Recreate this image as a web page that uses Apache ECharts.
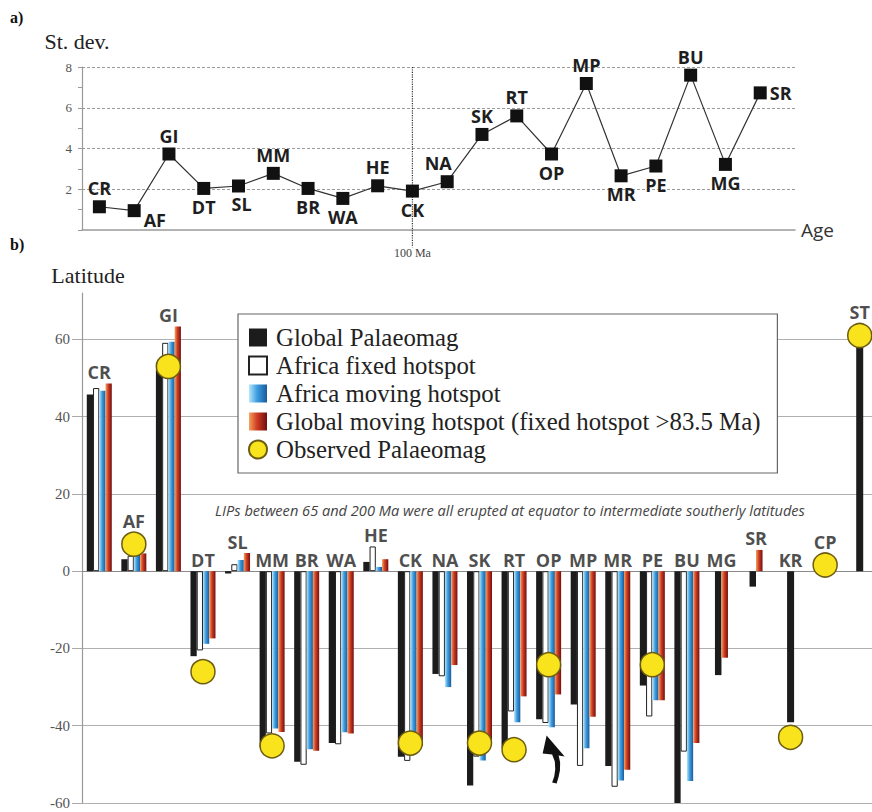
<!DOCTYPE html>
<html><head><meta charset="utf-8">
<script src="https://cdn.jsdelivr.net/npm/echarts@6/dist/echarts.min.js"></script>
<style>html,body{margin:0;padding:0;background:#fff}#c{width:872px;height:812px}</style>
</head><body><div id="c"></div>
<script>
// ---------- data ----------
const categories = ['CR','AF','GI','DT','SL','MM','BR','WA','HE','CK','NA','SK','RT','OP','MP','MR','PE','BU','MG','SR','KR','CP','ST'];
const stdevCategories = ['CR','AF','GI','DT','SL','MM','BR','WA','HE','CK','NA','SK','RT','OP','MP','MR','PE','BU','MG','SR'];
const stdev = [1.14, 0.95, 3.73, 2.04, 2.16, 2.78, 2.04, 1.55, 2.17, 1.91, 2.37, 4.69, 5.6, 3.73, 7.19, 2.66, 3.14, 7.6, 3.22, 6.73];
const globalPalaeomag = [45.7, 3.1, 54, -22.0, -0.6, -45.6, -49.3, -44.5, 2.4, -48.0, -26.6, -55.5, -45.8, -38.3, -34.5, -50.4, -29.6, -63, -26.9, -4.0, -39.1, null, 60];
const africaFixed     = [47.4, 4.0, 59.1, -20.5, 1.8, -42, -50.1, -44.8, 6.4, -49.1, -27.2, -48, -36.3, -39.3, -50.4, -55.8, -37.6, -46.7, null, null, null, null, null];
const africaMoving    = [46.7, 4.5, 59.4, -18.8, 2.9, -40.7, -46.1, -41.7, 1.1, -45, -30.0, -49.0, -39.1, -40.4, -45.8, -54.2, -33.4, -54.3, null, null, null, null, null];
const globalMoving    = [48.6, 4.6, 63.3, -17.4, 4.7, -41.6, -46.5, -42, 3.1, -45.2, -24.3, -45, -32.4, -31.9, -37.7, -51.4, -33.4, -44.5, -22.4, 5.5, null, null, null];
const observed        = [null, 7, 53, -26, null, -45.2, null, null, null, -44.5, null, -44.5, -46.2, -24.2, null, null, -24.2, null, null, null, -43, 1.6, 61];
const topTicks = [0, 2, 4, 6, 8];
const latTicks = [-60, -40, -20, 0, 20, 40, 60];
const ageMarker = 'CK';
const ageMarkerText = '100 Ma';
const noteText = 'LIPs between 65 and 200 Ma were all erupted at equator to intermediate southerly latitudes';

// ---------- styles ----------
const stdevLabelPos = {CR:'top',AF:'right',GI:'top',DT:'bottom',SL:'bottom',MM:'top',BR:'bottom',WA:'bottom',HE:'top',CK:'bottom',NA:'top',SK:'top',RT:'top',OP:'bottom',MP:'top',MR:'bottom',PE:'bottom',BU:'top',MG:'bottom',SR:'right'};
const stdevLabelOffset = {AF:[0,9], NA:[-9,0], SL:[3,0]};
const boldSans = {fontFamily:'Open Sans', fontWeight:'bold', fontSize:18, color:'#1e1e1e'};
const serif = 'Liberation Serif';

const chart = echarts.init(document.getElementById('c'), null, {renderer:'svg'});

const blueGrad = new echarts.graphic.LinearGradient(0,0,1,0,[{offset:0,color:'#b5e6fb'},{offset:0.45,color:'#3d9de0'},{offset:1,color:'#1a5a9c'}]);
const redGrad = new echarts.graphic.LinearGradient(0,0,1,0,[{offset:0,color:'#f5a15c'},{offset:0.45,color:'#cf3b22'},{offset:1,color:'#6e1010'}]);
const blackStyle = {color:'#1c1c1c'};
const whiteStyle = {color:'#ffffff', borderColor:'#222', borderWidth:1};
const blueStyle = {color:blueGrad};
const redStyle = {color:redGrad};

// group kind: how many model bars exist in each category
const groupKind = categories.map((c,i)=>{
  const n = [globalPalaeomag[i],africaFixed[i],africaMoving[i],globalMoving[i]].filter(v=>v!=null).length;
  return n >= 3 ? 4 : n;
});
const pick = (arr, kind) => arr.map((v,i)=> groupKind[i]===kind ? v : null);

function bar(name, data, style, axis, width){
  return {name, type:'bar', xAxisIndex:axis, yAxisIndex:1, data, itemStyle:style,
          barWidth:width, barGap:'0%', z:2, silent:true};
}

// label anchor per category
const labelData = categories.map((c,i)=>{
  let top = 0;
  [globalPalaeomag,africaFixed,africaMoving,globalMoving].forEach(a=>{ if(a[i]!=null && a[i]>top) top=a[i]; });
  let dist = 2;
  if (observed[i]!=null && observed[i] >= top - 1) { top = Math.max(top, observed[i]); dist = 14; }
  return {name:c, value:[i, top], label:{distance:dist}};
});

const option = {
  animation:false,
  backgroundColor:'#fff',
  textStyle:{fontFamily:serif},
  grid:[
    {left:82, top:67, width:713, height:163, outerBoundsMode:'none', containLabel:false},
    {left:82, top:293, width:795, height:510, outerBoundsMode:'none', containLabel:false}
  ],
  xAxis:[
    {gridIndex:0, type:'value', min:-0.5, max:20,
     axisLine:{show:true, onZero:false, lineStyle:{color:'#9a9a9a', width:1.5}},
     axisTick:{show:false}, axisLabel:{show:false}, splitLine:{show:false},
     name:'Age', nameLocation:'end', nameGap:6,
     nameTextStyle:{fontFamily:'Open Sans', fontSize:19, color:'#333'}},
    {gridIndex:1, type:'category', data:categories,
     axisLine:{show:true, onZero:true, lineStyle:{color:'#8a8a8a', width:1.2}},
     axisTick:{show:false}, axisLabel:{show:false}, splitLine:{show:false}},
    {gridIndex:1, type:'category', data:categories, show:false},
    {gridIndex:1, type:'category', data:categories, show:false}
  ],
  yAxis:[
    {gridIndex:0, type:'value', min:topTicks[0], max:topTicks[topTicks.length-1], interval:2,
     name:'St. dev.', nameLocation:'end', nameGap:15,
     nameTextStyle:{fontFamily:serif, fontSize:22, color:'#222', padding:[0,10,0,0]},
     axisLine:{show:true, onZero:false, lineStyle:{color:'#9a9a9a', width:1.2}},
     axisTick:{show:true, length:4, lineStyle:{color:'#9a9a9a'}},
     minorTick:{show:true, splitNumber:2, length:4, lineStyle:{color:'#9a9a9a'}},
     axisLabel:{fontFamily:serif, fontSize:13, color:'#555', margin:10, formatter:v=> v===0?'':String(v)},
     splitLine:{show:true, showMinLine:false, lineStyle:{color:'#9a9a9a', type:[3,2], width:1}}},
    {gridIndex:1, type:'value', min:latTicks[0], max:72, interval:20,
     name:'Latitude', nameLocation:'end', nameGap:7,
     nameTextStyle:{fontFamily:serif, fontSize:22, color:'#222', padding:[0,0,0,12]},
     axisLine:{show:true, onZero:false, lineStyle:{color:'#9a9a9a', width:1.2}},
     axisTick:{show:true, length:10, lineStyle:{color:'#aaa'}},
     axisLabel:{fontFamily:serif, fontSize:15, color:'#555', margin:12, showMaxLabel:false},
     splitLine:{show:true, showMaxLine:false, lineStyle:{color:'#b0b0b0', width:1}}}
  ],
  legend:{
    orient:'vertical', left:238, top:314, padding:[11,17,11,10],
    itemWidth:18, itemHeight:18, itemGap:3, selectedMode:false,
    backgroundColor:'#fff', borderColor:'#666', borderWidth:1.2,
    textStyle:{fontFamily:serif, fontSize:24.8, color:'#222', padding:[0,0,0,4]},
    data:[
      {name:'Global Palaeomag', icon:'rect'},
      {name:'Africa fixed hotspot', icon:'rect'},
      {name:'Africa moving hotspot', icon:'rect'},
      {name:'Global moving hotspot (fixed hotspot >83.5 Ma)', icon:'rect'},
      {name:'Observed Palaeomag', icon:'circle'}
    ]
  },
  graphic:[
    {id:'a', type:'text', left:10, top:9, style:{text:'a)', fontFamily:serif, fontWeight:'bold', fontSize:16, fill:'#111'}},
    {id:'b', type:'text', left:10, top:236, style:{text:'b)', fontFamily:serif, fontWeight:'bold', fontSize:16, fill:'#111'}},
    {id:'note', type:'text', x:510, y:510, style:{text:noteText, fontFamily:'Open Sans', fontStyle:'italic', fontSize:14.6, fill:'#444', align:'center', verticalAlign:'middle'}}
  ],
  series:[
    // top: 100 Ma marker line
    {type:'line', xAxisIndex:0, yAxisIndex:0, clip:false, silent:true, z:1,
     symbol:'circle', symbolSize:0.1, itemStyle:{color:'#333'},
     lineStyle:{color:'#333', width:1.2, type:'dotted'},
     data:[
       {value:[stdevCategories.indexOf(ageMarker), topTicks[topTicks.length-1]]},
       {value:[stdevCategories.indexOf(ageMarker), -0.85],
        label:{show:true, position:'bottom', distance:0, formatter:ageMarkerText, fontFamily:serif, fontSize:12, color:'#444'}}
     ]},
    // top: st. dev. line
    {type:'line', xAxisIndex:0, yAxisIndex:0, z:3, silent:true,
     symbol:'rect', symbolSize:13, itemStyle:{color:'#111'},
     lineStyle:{color:'#333', width:1.2},
     data: stdev.map((v,i)=>{
       const c = stdevCategories[i];
       return {name:c, value:[i,v],
               label:Object.assign({show:true, formatter:'{b}', position:stdevLabelPos[c], distance:3,
                                    offset:stdevLabelOffset[c]||[0,0]}, boldSans)};
     })},
    // bottom bars: 4-bar groups
    bar('Global Palaeomag', pick(globalPalaeomag,4), blackStyle, 1, 6.25),
    bar('Africa fixed hotspot', pick(africaFixed,4), whiteStyle, 1, 6.25),
    bar('Africa moving hotspot', pick(africaMoving,4), blueStyle, 1, 6.25),
    bar('Global moving hotspot (fixed hotspot >83.5 Ma)', pick(globalMoving,4), redStyle, 1, 6.25),
    // 2-bar groups
    bar('Global Palaeomag', pick(globalPalaeomag,2), blackStyle, 2, 6.5),
    bar('Global moving hotspot (fixed hotspot >83.5 Ma)', pick(globalMoving,2), redStyle, 2, 6.5),
    // single bar groups
    bar('Global Palaeomag', pick(globalPalaeomag,1), blackStyle, 3, 7),
    // observed
    {name:'Observed Palaeomag', type:'scatter', xAxisIndex:1, yAxisIndex:1, z:5, silent:true,
     symbol:'circle', symbolSize:24,
     itemStyle:{color:'#f9e31c', borderColor:'#6d5d12', borderWidth:1.5, opacity:1},
     data: observed.map((v,i)=>[i,v]).filter(d=>d[1]!=null)},
    // category labels
    {type:'scatter', xAxisIndex:1, yAxisIndex:1, z:6, silent:true, symbolSize:1,
     itemStyle:{color:'rgba(0,0,0,0)'},
     label:Object.assign({show:true, position:'top', formatter:'{b}'}, boldSans),
     data:labelData}
  ]
};
chart.setOption(option);

// curved arrow annotation pointing at OP group
const tip = chart.convertToPixel({xAxisIndex:1, yAxisIndex:1}, [categories.indexOf('OP'), -42.5]);
chart.setOption({graphic:[
  {id:'arrow', type:'polygon', x:tip[0]-2, y:tip[1], z:10,
   shape:{points:[[0,0],[18,21],[12,20],[13.5,27],[13.3,35],[11.8,42],[10,48],[5.5,47],[7.6,41],[8.6,34],[8.2,26],[5.5,19],[-4,18]]},
   style:{fill:'#111'}}
]});
</script></body></html>
